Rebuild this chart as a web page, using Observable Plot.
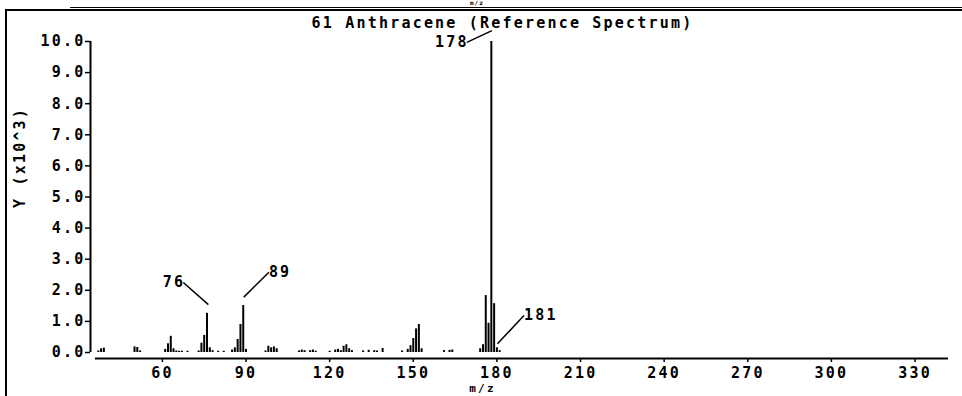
<!DOCTYPE html>
<html>
<head>
<meta charset="utf-8">
<script src="https://cdn.jsdelivr.net/npm/d3@7"></script>
<script src="https://cdn.jsdelivr.net/npm/@observablehq/plot@0.6"></script>
<style>
  html, body { margin: 0; padding: 0; background: #fff; }
  #wrap { position: relative; width: 962px; height: 396px; overflow: hidden; background: #fff; }
  #wrap svg { position: absolute; left: 0; top: 0; }
  #wrap svg text { letter-spacing: 2.2px; font-weight: bold; }
  .deco { position: absolute; background: #000; }
  #topz { position: absolute; left: 470px; top: 0px; font: bold 6px/6px "DejaVu Sans Mono"; letter-spacing: 1px; }
</style>
</head>
<body>
<div id="wrap">
  <div class="deco" style="left:5px; top:9px; width:2px; height:387px;"></div>
  <div class="deco" style="left:5px; top:9px; width:957px; height:2px;"></div>
  <div class="deco" style="left:70px; top:7px; width:892px; height:1px;"></div>
  <div id="topz">m/z</div>
</div>
<script>
// m/z values of the peaks
const mz = [37, 38, 39, 50, 51, 52, 61, 62, 63, 64, 65, 66, 67, 69, 73, 74, 75, 76, 77, 78, 80, 82,
  85, 86, 87, 88, 89, 90, 97, 98, 99, 100, 101, 109, 110, 111, 113, 114, 115, 120, 122, 123, 124,
  125, 126, 127, 128, 132, 134, 136, 137, 139, 146, 148, 149, 150, 151, 152, 153, 161, 163, 164,
  174, 175, 176, 177, 178, 179, 180, 181];
// intensities (x10^3)
const intensity = [0.05, 0.12, 0.14, 0.18, 0.16, 0.05, 0.10, 0.28, 0.52, 0.12, 0.05, 0.04, 0.04, 0.04,
  0.05, 0.30, 0.55, 1.26, 0.15, 0.06, 0.04, 0.04, 0.08, 0.15, 0.42, 0.90, 1.51, 0.10, 0.05, 0.20,
  0.15, 0.18, 0.12, 0.05, 0.08, 0.06, 0.06, 0.08, 0.04, 0.04, 0.08, 0.10, 0.06, 0.20, 0.25, 0.12,
  0.06, 0.05, 0.07, 0.06, 0.05, 0.13, 0.05, 0.10, 0.22, 0.45, 0.76, 0.90, 0.12, 0.06, 0.07, 0.08,
  0.12, 0.25, 1.83, 0.94, 10.0, 1.57, 0.15, 0.06];

const xTicks = [60, 90, 120, 150, 180, 210, 240, 270, 300, 330];
const yTicks = [0, 1, 2, 3, 4, 5, 6, 7, 8, 9, 10];
const xDomain = [36, 342];
const yDomain = [0, 10];

// annotated peaks: label text, peak end of leader, label end of leader
const annLabel = ["178", "76", "89", "181"];
const annPeakX = [178.2, 76.5, 89.2, 180.2];
const annPeakY = [10.35, 1.54, 1.78, 0.28];
const annTextX = [169.2, 67.5, 98.2, 189.7];
const annTextY = [9.97, 2.25, 2.58, 1.19];
const annAnchor = ["end", "end", "start", "start"];

const title = "61 Anthracene (Reference Spectrum)";
const yLabel = "Y (x10^3)";
const xLabel = "m/z";

const peaks = mz.map((m, i) => ({ mz: m, y: intensity[i] }));
const ann = annLabel.map((t, i) => ({
  t, px: annPeakX[i], py: annPeakY[i], tx: annTextX[i], ty: annTextY[i], a: annAnchor[i]
}));

const chart = Plot.plot({
  width: 962,
  height: 396,
  marginLeft: 90,
  insetLeft: 5,
  marginRight: 14,
  marginTop: 41,
  marginBottom: 38,
  insetBottom: 6,
  style: { fontFamily: "'DejaVu Sans Mono', monospace", fontSize: "15px", color: "#000", background: "transparent" },
  x: { domain: xDomain },
  y: { domain: yDomain },
  marks: [
    Plot.ruleX([xDomain[0]], { y1: yDomain[0], y2: yDomain[1], dx: -5, stroke: "#000", strokeWidth: 2 }),
    Plot.ruleY([0], { x1: xDomain[0], x2: xDomain[1], dy: 6, stroke: "#000", strokeWidth: 2 }),
    Plot.axisY({ ticks: yTicks, tickFormat: d3.format(".1f"), tickSize: 5, tickPadding: 0, label: null, stroke: "#000", strokeWidth: 1.5 }),
    Plot.axisX({ ticks: xTicks, tickFormat: d => String(d), tickSize: 4, tickPadding: 5, label: null, stroke: "#000", strokeWidth: 1.5 }),
    Plot.ruleX(peaks, { x: "mz", y1: 0, y2: "y", stroke: "#000", strokeWidth: 2 }),
    Plot.link(ann, { x1: "px", y1: "py", x2: "tx", y2: "ty", stroke: "#000", strokeWidth: 1.5 }),
    Plot.text(ann.filter(d => d.a === "end"), { x: "tx", y: "ty", text: "t", textAnchor: "end", dx: 2, fill: "#000" }),
    Plot.text(ann.filter(d => d.a === "start"), { x: "tx", y: "ty", text: "t", textAnchor: "start", dx: 0, fill: "#000" }),
    Plot.text([title], { frameAnchor: "top", dx: -17, dy: -18, lineAnchor: "middle", fill: "#000" }),
    Plot.text([yLabel], { frameAnchor: "left", rotate: -90, dx: -70, dy: 8, fill: "#000" }),
    Plot.text([xLabel], { frameAnchor: "bottom", dx: -37, dy: 33, lineAnchor: "bottom", fontSize: 11, fill: "#000" })
  ]
});
document.getElementById("wrap").prepend(chart);
</script>
</body>
</html>
